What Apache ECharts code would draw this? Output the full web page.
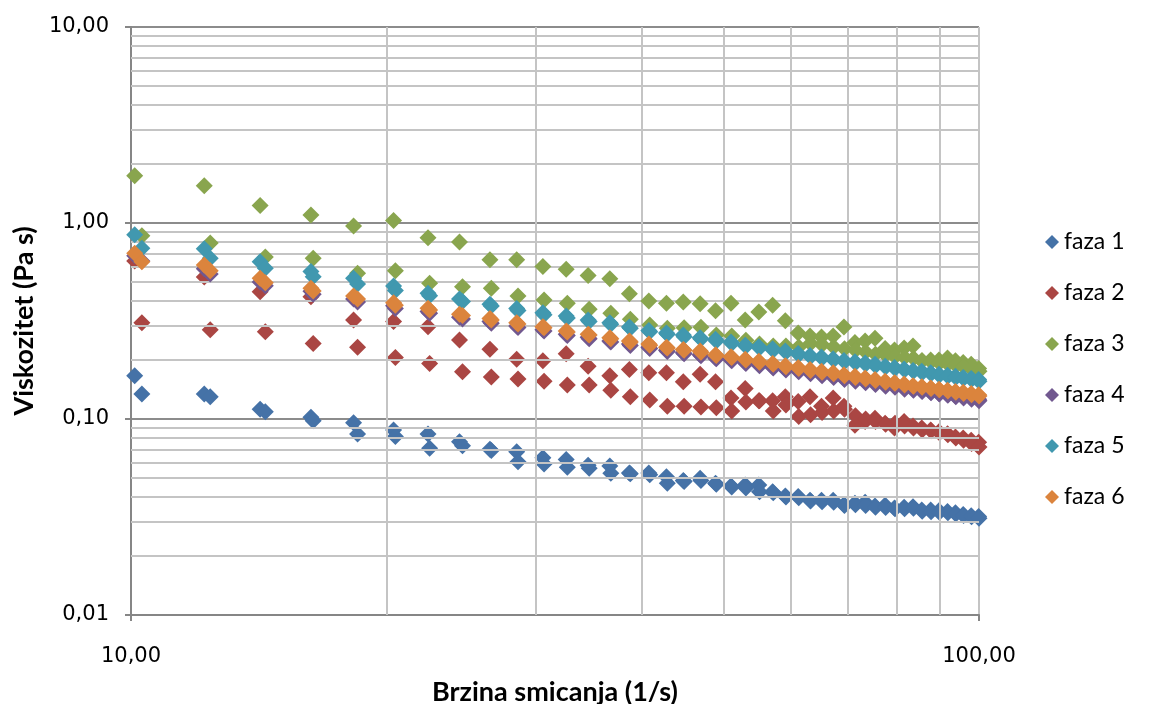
<!DOCTYPE html>
<html>
<head>
<meta charset="utf-8">
<title>Viskozitet</title>
<script src="https://cdn.jsdelivr.net/npm/echarts@6/dist/echarts.min.js"></script>
<style>
  html, body { margin: 0; padding: 0; background: #fff; }
  #chart { width: 1152px; height: 704px; }
</style>
</head>
<body>
<div id="chart"></div>
<script>
// brzina smicanja (1/s), dva prolaza mjerenja
var shearRateA = [10.1, 12.2, 14.2, 16.3, 18.3, 20.4, 22.4, 24.4, 26.5, 28.5, 30.6, 32.6, 34.6, 36.7, 38.7, 40.8, 42.8, 44.8, 46.9, 48.9, 51.0, 53.0, 55.0, 57.1, 59.1, 61.2, 63.2, 65.2, 67.3, 69.3, 71.4, 73.4, 75.4, 77.5, 79.5, 81.6, 83.6, 85.6, 87.7, 89.7, 91.8, 93.8, 95.8, 97.9, 99.9];
var shearRateB = [10.3, 12.4, 14.4, 16.4, 18.5, 20.5, 22.5, 24.6, 26.6, 28.6, 30.7, 32.7, 34.7, 36.8, 38.8, 40.9, 42.9, 44.9, 47.0, 49.0, 51.1, 53.1, 55.1, 57.2, 59.2, 61.3, 63.3, 65.3, 67.4, 69.4, 71.5, 73.5, 75.5, 77.6, 79.6, 81.7, 83.7, 85.7, 87.8, 89.8, 91.9, 93.9, 95.9, 98.0, 100.0];

// viskozitet (Pa s)
var faza1A = [0.166, 0.134, 0.112, 0.102, 0.0957, 0.0879, 0.0838, 0.0766, 0.070, 0.068, 0.0635, 0.0622, 0.058, 0.0575, 0.053, 0.053, 0.0508, 0.0485, 0.0499, 0.047, 0.0455, 0.0461, 0.0461, 0.0426, 0.0405, 0.0402, 0.0385, 0.0385, 0.0385, 0.0365, 0.0372, 0.0376, 0.036, 0.0363, 0.0352, 0.0355, 0.0357, 0.0343, 0.0343, 0.034, 0.0337, 0.0332, 0.0326, 0.0321, 0.0318];
var faza1B = [0.134, 0.130, 0.109, 0.098, 0.0838, 0.0813, 0.0709, 0.073, 0.069, 0.0606, 0.059, 0.0567, 0.056, 0.0528, 0.0525, 0.052, 0.047, 0.048, 0.0485, 0.0465, 0.045, 0.0445, 0.0426, 0.042, 0.040, 0.0396, 0.0382, 0.0378, 0.0376, 0.0362, 0.0365, 0.0362, 0.0355, 0.0354, 0.0348, 0.0348, 0.035, 0.0338, 0.0336, 0.0334, 0.0332, 0.0328, 0.0322, 0.0317, 0.0312];
var faza2A = [0.64, 0.53, 0.446, 0.42, 0.32, 0.314, 0.296, 0.253, 0.227, 0.202, 0.198, 0.215, 0.186, 0.166, 0.179, 0.172, 0.172, 0.155, 0.169, 0.155, 0.128, 0.143, 0.124, 0.124, 0.13, 0.123, 0.13, 0.116, 0.128, 0.116, 0.093, 0.097, 0.101, 0.095, 0.09, 0.097, 0.092, 0.09, 0.088, 0.086, 0.084, 0.081, 0.08, 0.078, 0.076];
var faza2B = [0.31, 0.285, 0.279, 0.243, 0.232, 0.206, 0.192, 0.174, 0.164, 0.16, 0.156, 0.149, 0.149, 0.14, 0.13, 0.125, 0.116, 0.116, 0.115, 0.114, 0.11, 0.122, 0.124, 0.11, 0.118, 0.103, 0.105, 0.108, 0.11, 0.112, 0.104, 0.1, 0.097, 0.094, 0.095, 0.092, 0.09, 0.088, 0.087, 0.085, 0.083, 0.08, 0.078, 0.075, 0.072];
var faza3A = [1.74, 1.55, 1.23, 1.10, 0.965, 1.03, 0.84, 0.80, 0.65, 0.65, 0.60, 0.58, 0.54, 0.52, 0.435, 0.40, 0.39, 0.395, 0.387, 0.357, 0.389, 0.32, 0.352, 0.38, 0.317, 0.275, 0.265, 0.262, 0.265, 0.295, 0.246, 0.25, 0.258, 0.229, 0.225, 0.23, 0.236, 0.198, 0.2, 0.2, 0.205, 0.198, 0.194, 0.19, 0.181];
var faza3B = [0.86, 0.79, 0.67, 0.66, 0.554, 0.571, 0.492, 0.473, 0.464, 0.424, 0.405, 0.389, 0.363, 0.346, 0.323, 0.302, 0.29, 0.292, 0.294, 0.268, 0.265, 0.252, 0.241, 0.236, 0.236, 0.233, 0.243, 0.239, 0.233, 0.228, 0.224, 0.22, 0.214, 0.212, 0.208, 0.206, 0.204, 0.198, 0.196, 0.193, 0.191, 0.188, 0.185, 0.18, 0.175];
var faza4A = [0.68, 0.585, 0.50, 0.448, 0.41, 0.378, 0.354, 0.33, 0.314, 0.298, 0.285, 0.271, 0.261, 0.25, 0.241, 0.232, 0.224, 0.218, 0.213, 0.205, 0.2, 0.194, 0.189, 0.184, 0.18, 0.176, 0.172, 0.168, 0.165, 0.161, 0.158, 0.155, 0.152, 0.149, 0.147, 0.144, 0.142, 0.139, 0.137, 0.135, 0.133, 0.131, 0.13, 0.128, 0.126];
var faza4B = [0.64, 0.55, 0.478, 0.433, 0.395, 0.366, 0.346, 0.324, 0.308, 0.293, 0.281, 0.267, 0.257, 0.247, 0.237, 0.229, 0.221, 0.215, 0.21, 0.203, 0.198, 0.192, 0.187, 0.182, 0.178, 0.174, 0.17, 0.166, 0.163, 0.159, 0.156, 0.153, 0.15, 0.147, 0.145, 0.142, 0.14, 0.138, 0.136, 0.134, 0.132, 0.13, 0.128, 0.126, 0.124];
var faza5A = [0.87, 0.74, 0.635, 0.565, 0.522, 0.477, 0.438, 0.41, 0.385, 0.366, 0.348, 0.335, 0.32, 0.31, 0.295, 0.283, 0.275, 0.268, 0.26, 0.255, 0.247, 0.238, 0.234, 0.228, 0.222, 0.216, 0.211, 0.207, 0.203, 0.199, 0.196, 0.193, 0.19, 0.186, 0.183, 0.18, 0.177, 0.175, 0.172, 0.169, 0.167, 0.165, 0.163, 0.161, 0.159];
var faza5B = [0.743, 0.66, 0.587, 0.532, 0.489, 0.452, 0.425, 0.398, 0.377, 0.358, 0.34, 0.328, 0.314, 0.304, 0.29, 0.279, 0.271, 0.263, 0.256, 0.25, 0.243, 0.235, 0.23, 0.224, 0.219, 0.213, 0.208, 0.204, 0.2, 0.196, 0.193, 0.19, 0.187, 0.184, 0.181, 0.178, 0.175, 0.172, 0.17, 0.167, 0.165, 0.163, 0.161, 0.159, 0.156];
var faza6A = [0.70, 0.61, 0.522, 0.465, 0.424, 0.392, 0.367, 0.342, 0.326, 0.31, 0.296, 0.281, 0.271, 0.26, 0.25, 0.241, 0.232, 0.226, 0.222, 0.213, 0.208, 0.202, 0.197, 0.192, 0.187, 0.183, 0.179, 0.175, 0.172, 0.168, 0.165, 0.162, 0.159, 0.156, 0.153, 0.151, 0.148, 0.146, 0.144, 0.142, 0.14, 0.138, 0.137, 0.135, 0.133];
var faza6B = [0.635, 0.571, 0.496, 0.45, 0.41, 0.38, 0.36, 0.337, 0.32, 0.305, 0.292, 0.278, 0.268, 0.257, 0.247, 0.238, 0.23, 0.224, 0.219, 0.211, 0.206, 0.2, 0.195, 0.19, 0.185, 0.181, 0.177, 0.173, 0.17, 0.166, 0.163, 0.16, 0.157, 0.154, 0.152, 0.149, 0.147, 0.145, 0.143, 0.141, 0.139, 0.137, 0.135, 0.133, 0.131];

var seriesNames = ["faza 1", "faza 2", "faza 3", "faza 4", "faza 5", "faza 6"];
var seriesColors = ["#4572A7", "#AA4643", "#89A54E", "#71588F", "#4198AF", "#DB843D"];

// pomocne linije mreze (2..9 u svakoj dekadi)
var minorGridY = [0.02, 0.03, 0.04, 0.05, 0.06, 0.07, 0.08, 0.09, 0.2, 0.3, 0.4, 0.5, 0.6, 0.7, 0.8, 0.9, 2, 3, 4, 5, 6, 7, 8, 9];
var minorGridX = [20, 30, 40, 50, 60, 70, 80, 90];

function pairs(xs, ys) {
  var out = [];
  for (var i = 0; i < ys.length; i++) {
    out.push([xs[i], ys[i]]);
  }
  return out;
}

function fmt(v) {
  return Number(v).toFixed(2).replace(".", ",");
}

var sweeps = [
  [faza1A, faza1B], [faza2A, faza2B], [faza3A, faza3B],
  [faza4A, faza4B], [faza5A, faza5B], [faza6A, faza6B]
];

var series = [];

// mreza kao markLine da ide kroz skale osi
series.push({
  name: "grid",
  type: "scatter",
  data: [],
  silent: true,
  z: 1,
  markLine: {
    silent: true,
    animation: false,
    symbol: ["none", "none"],
    label: { show: false },
    lineStyle: { color: "#c4c4c4", width: 2, type: "solid" },
    emphasis: { disabled: true },
    data: minorGridY.map(function (v) { return { yAxis: v }; })
      .concat(minorGridX.map(function (v) { return { xAxis: v }; }))
  }
});

sweeps.forEach(function (s, i) {
  series.push({
    name: seriesNames[i],
    type: "scatter",
    symbol: "diamond",
    symbolSize: 17,
    clip: false,
    z: 3 + i,
    itemStyle: { color: seriesColors[i], opacity: 1 },
    data: pairs(shearRateA, s[0]).concat(pairs(shearRateB, s[1]))
  });
});

var myChart = echarts.init(document.getElementById("chart"));
var option = {
  animation: false,
  backgroundColor: "#ffffff",
  color: seriesColors,
  grid: {
    left: 131,
    right: 173,
    top: 27,
    bottom: 89,
    containLabel: false,
    outerBoundsMode: "none"
  },
  legend: {
    data: seriesNames,
    orient: "vertical",
    left: 1040,
    top: 225,
    icon: "diamond",
    itemWidth: 14,
    itemHeight: 14,
    itemGap: 27,
    textStyle: {
      fontFamily: "Lato",
      fontSize: 23,
      lineHeight: 24,
      color: "#000"
    }
  },
  xAxis: {
    type: "log",
    logBase: 10,
    min: 10,
    max: 100,
    name: "Brzina smicanja (1/s)",
    nameLocation: "middle",
    nameGap: 64,
    nameTextStyle: {
      fontFamily: "Lato",
      fontWeight: "bold",
      fontSize: 27,
      color: "#000"
    },
    axisLine: { show: true, lineStyle: { color: "#868686", width: 2 } },
    axisTick: { show: true, inside: false, length: 6, lineStyle: { color: "#868686", width: 2 } },
    axisLabel: {
      formatter: fmt,
      margin: 31,
      fontFamily: "DejaVu Sans",
      fontSize: 21,
      color: "#000"
    },
    splitLine: { show: true, lineStyle: { color: "#c4c4c4", width: 2 } }
  },
  yAxis: {
    type: "log",
    logBase: 10,
    min: 0.01,
    max: 10,
    name: "Viskozitet (Pa s)",
    nameLocation: "middle",
    nameGap: 87,
    nameRotate: 90,
    nameTextStyle: {
      fontFamily: "Lato",
      fontWeight: "bold",
      fontSize: 27,
      color: "#000"
    },
    axisLine: { show: true, lineStyle: { color: "#868686", width: 2 } },
    axisTick: { show: true, inside: false, length: 6, lineStyle: { color: "#868686", width: 2 } },
    axisLabel: {
      formatter: fmt,
      margin: 22,
      fontFamily: "DejaVu Sans",
      fontSize: 21,
      color: "#000"
    },
    splitLine: { show: true, lineStyle: { color: "#8c8c8c", width: 2 } }
  },
  series: series
};
myChart.setOption(option);
</script>
</body>
</html>
